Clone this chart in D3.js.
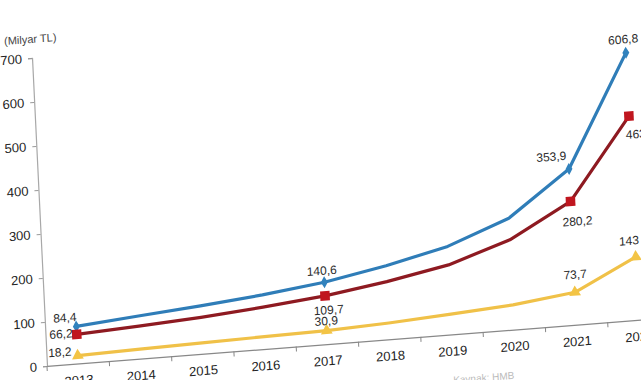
<!DOCTYPE html>
<html><head><meta charset="utf-8">
<script src="https://cdn.jsdelivr.net/npm/d3@7"></script>
<style>html,body{margin:0;padding:0;background:#fff;overflow:hidden}</style>
</head><body><svg id="c" width="641" height="380"></svg>
<script>
// ---- data ----
const years = ["2013","2014","2015","2016","2017","2018","2019","2020","2021","2022"];
const seriesBlue   = [84.4, 97, 109, 123, 140.6, 167, 200, 253, 353.9, 606.8];
const seriesRed    = [66.2, 74, 83, 95, 109.7, 131, 158, 204, 280.2, 463];
const seriesYellow = [18.2, 22, 25, 28, 30.9, 37, 46, 56, 73.7, 143];
const labelsBlue   = ["84,4", null, null, null, "140,6", null, null, null, "353,9", "606,8"];
const labelsRed    = ["66,2", null, null, null, "109,7", null, null, null, "280,2", "463"];
const labelsYellow = ["18,2", null, null, null, "30,9", null, null, null, "73,7", "143"];
const yTicks = [0, 100, 200, 300, 400, 500, 600, 700];
const unitLabel = "(Milyar TL)";
const sourceLabel = "Kaynak: HMB";

// ---- layout / style ----
const W = 623, H = 308;
const svg = d3.select("#c");
// the reference is a slightly tilted photo of the chart: draw in a flat frame, then shear it
const g = svg.append("g").attr("transform", "matrix(1,-0.078,0.0487,1,32,58)");
const font = "'Liberation Sans', Arial, sans-serif";

const x = d3.scaleBand().domain(years).range([0, W]).padding(0);
const y = d3.scaleLinear().domain([0, 700]).range([H, 0]);

// y axis
const yAxis = g.append("g").call(d3.axisLeft(y).tickValues(yTicks).tickSize(4).tickPadding(6).tickFormat(d3.format("d")));
yAxis.select(".domain").attr("stroke", "#a8a8a8").attr("stroke-width", 1.2);
yAxis.selectAll(".tick line").attr("stroke", "#999");
yAxis.selectAll("text").attr("font-family", font).attr("font-size", 13).attr("fill", "#222");

// x axis
const xAxis = g.append("g").attr("transform", `translate(0,${H})`)
  .call(d3.axisBottom(x).tickSize(0).tickPadding(12));
xAxis.select(".domain").attr("stroke", "#888").attr("stroke-width", 1.2);
xAxis.selectAll("text").attr("font-family", font).attr("font-size", 13).attr("fill", "#222");
// boundary ticks
xAxis.selectAll(".bt").data(d3.range(years.length + 1)).join("line")
  .attr("x1", i => i * x.step()).attr("x2", i => i * x.step())
  .attr("y1", 0).attr("y2", 5).attr("stroke", "#888");

g.append("text").attr("x", -27).attr("y", -15).text(unitLabel)
  .attr("font-family", font).attr("font-size", 11).attr("fill", "#444");

const cx = d => x(d) + x.bandwidth() / 2;

const series = [
  {vals: seriesBlue, labels: labelsBlue, line: "#2f7db8", mark: "#3182bd", sym: d3.symbolDiamond, size: 42,
   off: [[-11,-10,"middle"],null,null,null,[-2,-12,"middle"],null,null,null,[-17,-14,"middle"],[-2,-14,"middle"]]},
  {vals: seriesRed, labels: labelsRed, line: "#8e1a21", mark: "#c0161f", sym: d3.symbolSquare, size: 90,
   off: [[-4,-2,"end"],null,null,null,[3,14,"middle"],null,null,null,[6,20,"middle"],[-4,18,"start"]]},
  {vals: seriesYellow, labels: labelsYellow, line: "#f0c148", mark: "#f3c445", sym: d3.symbolTriangle, size: 60,
   off: [[-6,-5,"end"],null,null,null,[0,-10,"middle"],null,null,null,[1,-18,"middle"],[-6,-17,"middle"]]}
];

const line = d3.line().x((d, i) => cx(years[i])).y(d => y(d));

series.forEach(s => {
  g.append("path").attr("d", line(s.vals)).attr("fill", "none")
    .attr("stroke", s.line).attr("stroke-width", 3.2).attr("stroke-linejoin", "round");
});
series.forEach(s => {
  s.vals.forEach((v, i) => {
    if (s.labels[i] == null) return;
    g.append("path").attr("d", d3.symbol().type(s.sym).size(s.size)())
      .attr("transform", `translate(${cx(years[i])},${y(v)})`).attr("fill", s.mark);
  });
});
series.forEach(s => {
  s.vals.forEach((v, i) => {
    if (s.labels[i] == null) return;
    const o = s.off[i];
    g.append("text").attr("x", cx(years[i]) + o[0]).attr("y", y(v) + o[1] + 4.5)
      .attr("text-anchor", o[2]).text(s.labels[i])
      .attr("font-family", font).attr("font-size", 12).attr("fill", "#2a2a2a");
  });
});

g.append("text").attr("x", 404).attr("y", 357).text(sourceLabel)
  .attr("font-family", font).attr("font-size", 10).attr("fill", "#bbb");
</script></body></html>
